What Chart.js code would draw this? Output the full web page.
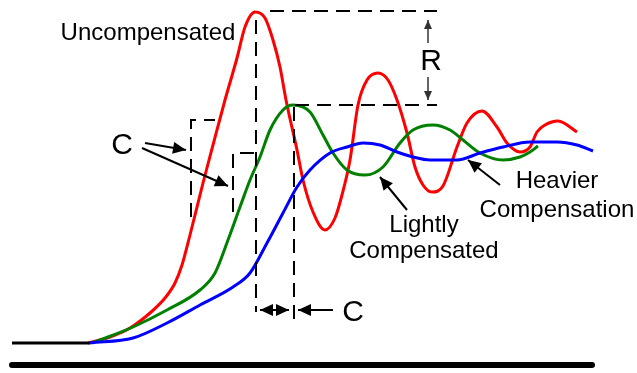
<!DOCTYPE html>
<html>
<head>
<meta charset="utf-8">
<script src="https://cdn.jsdelivr.net/npm/chart.js@4"></script>
<style>
    body { margin: 0; background: #fff; }
    .chart-box { width: 637px; height: 373px; position: relative; }
</style>
</head>
<body>
<div class="chart-box"><canvas id="chart"></canvas></div>
<script>
// curves (picture units, y grows downward)
const redX = [88, 110, 130, 150, 165, 175, 182, 190, 203, 213, 225, 237, 245, 255, 265, 273, 280, 286, 297, 303, 313, 325, 335, 342, 350, 358, 367, 378, 388, 397, 407, 415, 423, 432, 443, 457, 467, 482, 497, 507, 520, 530, 537, 545, 558, 577];
const redY = [343, 337, 328, 313, 298, 283, 265, 235, 183, 145, 100, 58, 27, 12, 18, 40, 67, 100, 150, 180, 212, 230, 218, 195, 160, 105, 80, 73, 80, 100, 133, 167, 185, 192, 186, 147, 123, 111, 127, 143, 152, 147, 132, 125, 121, 132];

const greenX = [92, 100, 133, 167, 200, 215, 228, 240, 250, 260, 270, 283, 293, 310, 323, 333, 347, 365, 383, 400, 413, 433, 450, 463, 480, 503, 520, 530, 538];
const greenY = [343, 340, 327, 310, 290, 273, 240, 207, 180, 157, 130, 110, 105, 112, 135, 153, 170, 175, 167, 143, 130, 125, 130, 140, 153, 160, 157, 152, 146];

const blueX = [90, 133, 167, 200, 233, 250, 267, 283, 297, 310, 330, 347, 363, 380, 397, 413, 430, 457, 480, 503, 530, 557, 577, 593];
const blueY = [343, 338, 323, 305, 287, 273, 243, 213, 187, 170, 153, 147, 143, 145, 152, 157, 160, 160, 153, 147, 142, 142, 145, 151];

// flat input line and the ground line
const inputX = [12, 90];
const inputY = [343, 343];
const groundX = [12, 592];
const groundY = [365, 365];

// dashed guides
const guideX = [[270, 437], [256, 256], [295, 437], [294, 294], [191, 191, 215], [233, 233, 257]];
const guideY = [[11, 11], [20, 312], [105, 105], [107, 322], [217, 120, 120], [212, 153, 153]];

// arrows
const arrowX = [[145, 186], [142, 228], [260, 289], [333, 298], [407, 380], [500, 468]];
const arrowY = [[143, 150], [148, 186], [310, 310], [310, 310], [210, 177], [185, 160]];
const arrowEnds = ["end", "end", "both", "end", "end", "end"];
const smallArrowX = [[428, 428], [428, 428]];
const smallArrowY = [[43, 20], [77, 100]];

// text
const labelText = ["Uncompensated", "C", "R", "C", "Lightly", "Compensated", "Heavier", "Compensation"];
const labelX = [148, 122, 431, 353, 424, 424, 557, 557];
const labelY = [40, 154, 70, 321, 232, 258, 188, 217];
const labelSize = [24, 30, 30, 30, 24, 24, 24, 24];

function pts(xs, ys) {
    return xs.map((x, i) => ({ x: x, y: ys[i] }));
}

let datasets = [];

datasets.push({ data: pts(inputX, inputY), borderColor: "#000", borderWidth: 3 });
datasets.push({ data: pts(groundX, groundY), borderColor: "#000", borderWidth: 6, borderCapStyle: "round" });

for (let i = 0; i < guideX.length; i++) {
    datasets.push({ data: pts(guideX[i], guideY[i]), borderColor: "#000", borderWidth: 2, borderDash: [14, 8] });
}

for (let i = 0; i < arrowX.length; i++) {
    datasets.push({ data: pts(arrowX[i], arrowY[i]), borderColor: "#000", borderWidth: 2, arrow: arrowEnds[i], headLen: 13, headWide: 6 });
}
for (let i = 0; i < smallArrowX.length; i++) {
    datasets.push({ data: pts(smallArrowX[i], smallArrowY[i]), borderColor: "#333", borderWidth: 1.5, arrow: "end", headLen: 9, headWide: 4 });
}

datasets.push({ data: pts(blueX, blueY), borderColor: "#0000ff", borderWidth: 3, cubicInterpolationMode: "monotone" });
datasets.push({ data: pts(greenX, greenY), borderColor: "#008000", borderWidth: 3, cubicInterpolationMode: "monotone" });
datasets.push({ data: pts(redX, redY), borderColor: "#ff0000", borderWidth: 3, cubicInterpolationMode: "monotone" });

// draw the heads at the ends of the arrow lines
const arrowHeads = {
    id: "arrowHeads",
    afterDatasetsDraw(chart) {
        const ctx = chart.ctx;
        chart.data.datasets.forEach((ds, i) => {
            if (!ds.arrow) return;
            const p = chart.getDatasetMeta(i).data;
            const head = (a, b) => {
                const ang = Math.atan2(b.y - a.y, b.x - a.x);
                ctx.save();
                ctx.translate(b.x, b.y);
                ctx.rotate(ang);
                ctx.beginPath();
                ctx.moveTo(0, 0);
                ctx.lineTo(-ds.headLen, -ds.headWide);
                ctx.lineTo(-ds.headLen, ds.headWide);
                ctx.closePath();
                ctx.fillStyle = ds.borderColor;
                ctx.fill();
                ctx.restore();
            };
            head(p[p.length - 2], p[p.length - 1]);
            if (ds.arrow === "both") head(p[1], p[0]);
        });
    }
};

const labels = {
    id: "labels",
    afterDatasetsDraw(chart) {
        const ctx = chart.ctx;
        const sx = chart.scales.x, sy = chart.scales.y;
        ctx.save();
        ctx.fillStyle = "#000";
        ctx.textAlign = "center";
        ctx.textBaseline = "alphabetic";
        labelText.forEach((t, i) => {
            ctx.font = labelSize[i] + "px 'Liberation Sans', Arial, sans-serif";
            ctx.fillText(t, sx.getPixelForValue(labelX[i]), sy.getPixelForValue(labelY[i]));
        });
        ctx.restore();
    }
};

new Chart(document.getElementById("chart"), {
    type: "line",
    data: { datasets: datasets },
    options: {
        responsive: true,
        maintainAspectRatio: false,
        animation: false,
        layout: { padding: 0 },
        elements: { point: { radius: 0 }, line: { tension: 0, fill: false } },
        scales: {
            x: { type: "linear", min: 0, max: 637, display: false },
            y: { type: "linear", min: 0, max: 373, reverse: true, display: false }
        },
        plugins: {
            legend: { display: false },
            tooltip: { enabled: false }
        }
    },
    plugins: [arrowHeads, labels]
});
</script>
</body>
</html>
